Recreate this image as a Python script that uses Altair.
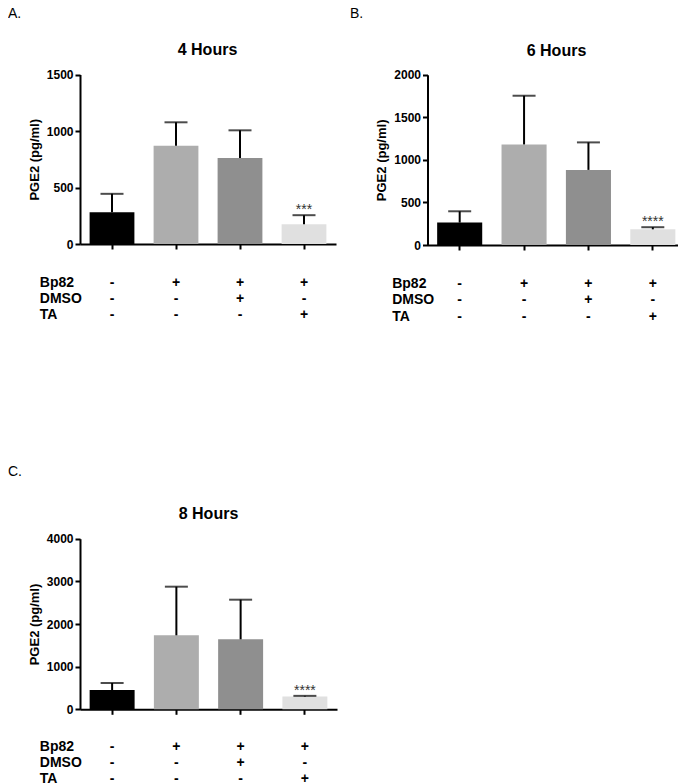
import altair as alt
import pandas as pd

# ---------------- data ----------------
conditions = ["-|-|-", "+|-|-", "+|+|-", "+|-|+"]   # Bp82 | DMSO | TA
bar_colors = ["#000000", "#adadad", "#8f8f8f", "#e0e0e0"]
row_names = ["Bp82", "DMSO", "TA"]

panel_titles = ["4 Hours", "6 Hours", "8 Hours"]
panel_letters = ["A.", "B.", "C."]
y_max = [1500, 2000, 4000]
y_ticks = [[0, 500, 1000, 1500], [0, 500, 1000, 1500, 2000], [0, 1000, 2000, 3000, 4000]]

mean_4h = [280, 870, 760, 175]
sem_4h = [164, 207, 246, 80]
mean_6h = [263, 1181, 882, 184]
sem_6h = [133, 572, 323, 25]
mean_8h = [452, 1735, 1641, 300]
sem_8h = [165, 1140, 929, 15]
stars_4h = ["", "", "", "***"]
stars_6h = ["", "", "", "****"]
stars_8h = ["", "", "", "****"]

means = [mean_4h, mean_6h, mean_8h]
sems = [sem_4h, sem_6h, sem_8h]
stars = [stars_4h, stars_6h, stars_8h]

# ---------------- layout (pixels) ----------------
W, H = 670, 775
FONT = "Liberation Sans"
layout = [
    dict(xr=[72, 328], yr=[236, 66.5], tx=199.5, ty=47, lx=0, ly=10,
         rowx=31.3, rowy=42.7, lh=15.7),
    dict(xr=[419.5, 677], yr=[237, 66.7], tx=548.5, ty=47.5, lx=342, ly=10,
         rowx=383.7, rowy=42.3, lh=16.7),
    dict(xr=[72, 329], yr=[701.3, 530.7], tx=200.5, ty=511.3, lx=0, ly=467.7,
         rowx=31.3, rowy=40.7, lh=16.3),
]


def panel(i):
    L = layout[i]
    df = pd.DataFrame({
        "cond": conditions,
        "mean": means[i],
        "sem": sems[i],
        "stars": stars[i],
        "color": bar_colors,
    })
    df["top"] = df["mean"] + df["sem"]

    x = alt.X(
        "cond:N", sort=conditions,
        scale=alt.Scale(domain=conditions, range=L["xr"], paddingInner=0.3, paddingOuter=0.15),
        axis=alt.Axis(
            orient="bottom", offset=L["yr"][0] - H,
            labelExpr="split(datum.label, '|')",
            labelAngle=0, labelFontSize=14, labelLineHeight=L["lh"],
            labelBaseline="alphabetic", labelPadding=L["rowy"] - 5,
            labelOverlap=False, labelFlush=False,
            title=row_names, titleX=L["rowx"], titleY=L["rowy"],
            titleAlign="left", titleAnchor="start", titleBaseline="alphabetic",
            titleAngle=0, titleFontSize=14, titleLineHeight=L["lh"],
        ),
    )
    yscale = alt.Scale(domain=[0, y_max[i]], range=L["yr"], nice=False, zero=True)
    yaxis = alt.Axis(orient="left", offset=-L["xr"][0], values=y_ticks[i], format="d",
                     title="PGE2 (pg/ml)", titlePadding=5, labelPadding=2)

    base = alt.Chart(df).encode(x=x)
    bars = base.mark_bar().encode(
        y=alt.Y("mean:Q", scale=yscale, axis=yaxis),
        color=alt.Color("color:N", scale=None),
    )
    rule = base.mark_rule(color="black", strokeWidth=2).encode(
        y=alt.Y("mean:Q", scale=yscale, axis=yaxis), y2="top:Q"
    )
    cap = base.mark_tick(color="black", thickness=2, size=23).encode(
        y=alt.Y("top:Q", scale=yscale, axis=yaxis)
    )
    txt = base.mark_text(font=FONT, fontSize=14, color="#333333",
                         baseline="alphabetic", dy=-1).encode(
        y=alt.Y("top:Q", scale=yscale, axis=yaxis), text="stars:N"
    )
    return alt.layer(bars, rule, cap, txt)


def title_layer(i):
    L = layout[i]
    t = alt.Chart(pd.DataFrame({"t": [panel_titles[i]]})).mark_text(
        font=FONT, fontSize=16, fontWeight="bold", color="black",
        align="center", baseline="alphabetic"
    ).encode(text="t:N", x=alt.value(L["tx"]), y=alt.value(L["ty"]))
    l = alt.Chart(pd.DataFrame({"t": [panel_letters[i]]})).mark_text(
        font=FONT, fontSize=14, color="black", align="left", baseline="alphabetic"
    ).encode(text="t:N", x=alt.value(L["lx"]), y=alt.value(L["ly"]))
    return [t, l]


layers = [panel(0), panel(1), panel(2)]
for i in range(3):
    layers += title_layer(i)

chart = alt.layer(*layers).resolve_scale(
    x="independent", y="independent", color="independent"
).resolve_axis(
    x="independent", y="independent"
).properties(
    width=W, height=H, padding=0, autosize=alt.AutoSizeParams(type="none"),
    background="white",
).configure_view(stroke=None).configure_axis(
    grid=False,
    labelFont=FONT, labelFontWeight="bold", labelFontSize=12, labelColor="black",
    titleFont=FONT, titleFontWeight="bold", titleFontSize=13, titleColor="black",
    domainColor="black", domainWidth=2, tickColor="black", tickWidth=2, tickSize=5,
)

chart.save("out.html", embed_options={"renderer": "svg", "actions": False})
